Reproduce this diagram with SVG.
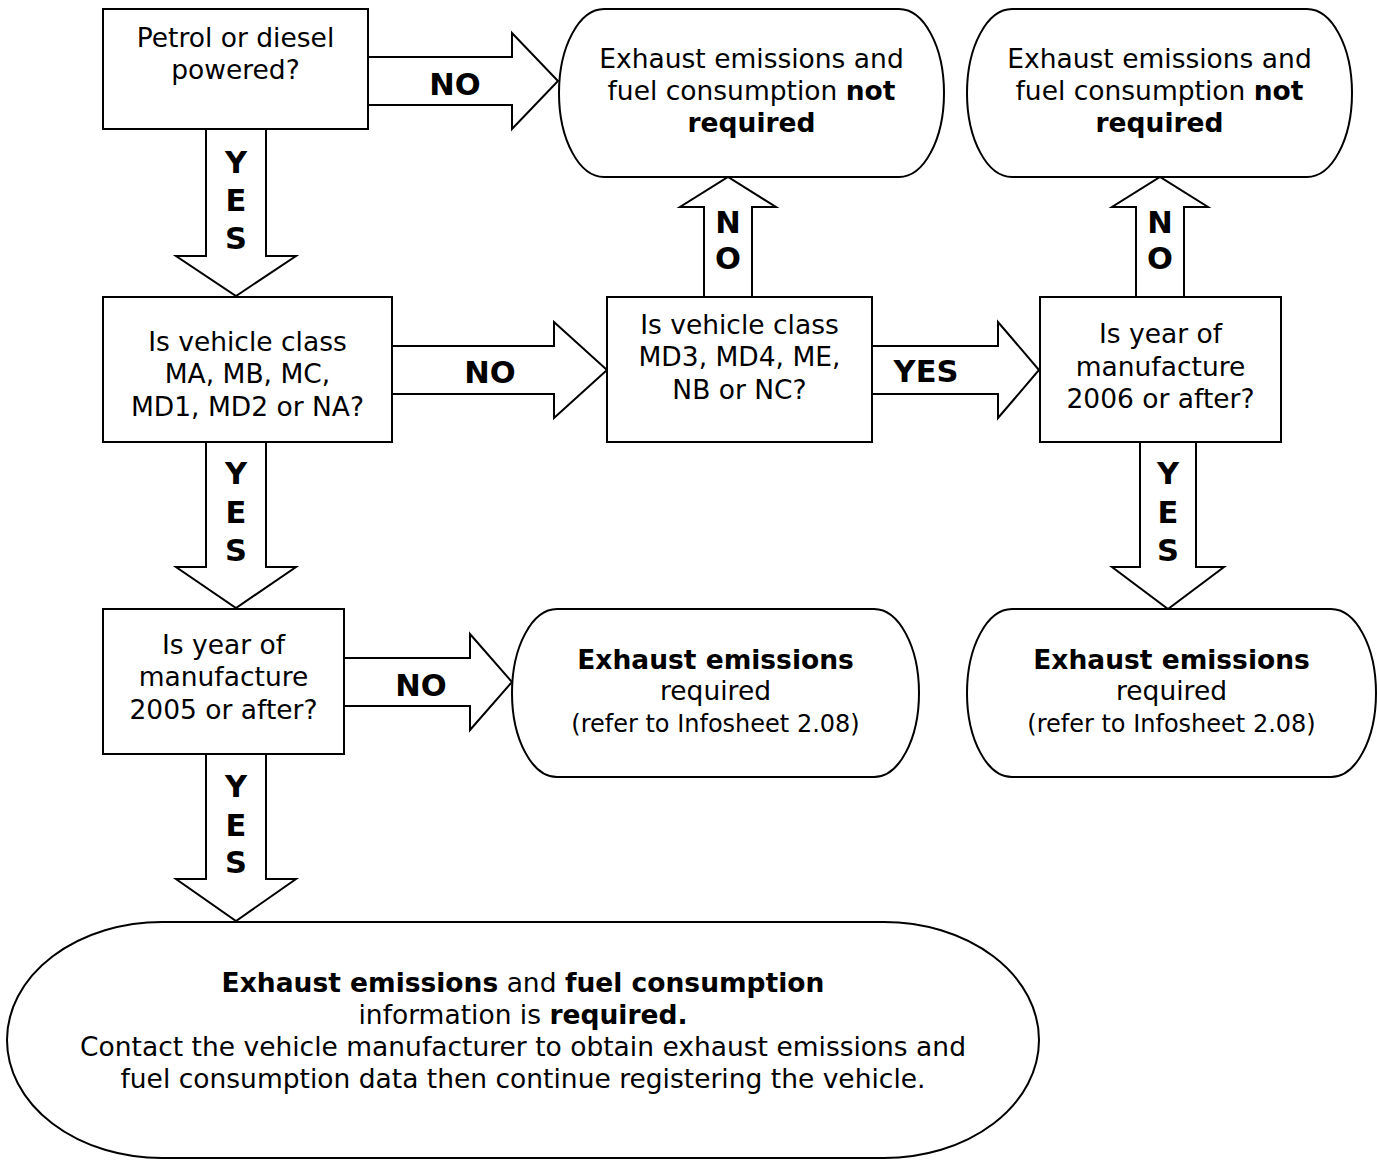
<svg xmlns="http://www.w3.org/2000/svg" width="1377" height="1160" viewBox="0 0 1377 1160">
<style>
.shape{fill:#fff;stroke:#000;stroke-width:2}
.arr{fill:#fff;stroke:#000;stroke-width:2;stroke-linejoin:miter}
text{font-family:"DejaVu Sans","Verdana",sans-serif;fill:#000;text-anchor:middle}
.t{font-size:26.5px}
.s{font-size:24px}
.b{font-weight:bold}
.lbl{font-size:30.5px;font-weight:bold}
</style>
<rect width="1377" height="1160" fill="#fff"/>
<g id="connectors">
<polygon class="arr" points="368,57 512,57 512,33 558,81 512,129 512,105 368,105"/>
<polygon class="arr" points="206,129 266,129 266,256 296,256 236,296 176,256 206,256"/>
<polygon class="arr" points="392,346 554,346 554,322 607,370 554,418 554,394 392,394"/>
<polygon class="arr" points="704,297 704,207 680,207 728,177 776,207 752,207 752,297"/>
<polygon class="arr" points="872,346 998,346 998,322 1039,370 998,418 998,394 872,394"/>
<polygon class="arr" points="1136,297 1136,207 1112,207 1160,177 1208,207 1184,207 1184,297"/>
<polygon class="arr" points="206,442 266,442 266,567 296,567 236,608 176,567 206,567"/>
<polygon class="arr" points="1140,442 1196,442 1196,567 1224,567 1168,609 1112,567 1140,567"/>
<polygon class="arr" points="344,658 470,658 470,634 512,682 470,730 470,706 344,706"/>
<polygon class="arr" points="206,754 266,754 266,879 296,879 236,921 176,879 206,879"/>
<text class="lbl" x="455" y="95">NO</text>
<text class="lbl" x="236" y="173">Y</text>
<text class="lbl" x="236" y="211">E</text>
<text class="lbl" x="236" y="249">S</text>
<text class="lbl" x="490" y="383">NO</text>
<text class="lbl" x="728" y="233">N</text>
<text class="lbl" x="728" y="269">O</text>
<text class="lbl" x="926" y="382">YES</text>
<text class="lbl" x="1160" y="233">N</text>
<text class="lbl" x="1160" y="269">O</text>
<text class="lbl" x="236" y="484">Y</text>
<text class="lbl" x="236" y="523">E</text>
<text class="lbl" x="236" y="561">S</text>
<text class="lbl" x="1168" y="484">Y</text>
<text class="lbl" x="1168" y="523">E</text>
<text class="lbl" x="1168" y="561">S</text>
<text class="lbl" x="421" y="696">NO</text>
<text class="lbl" x="236" y="797">Y</text>
<text class="lbl" x="236" y="836">E</text>
<text class="lbl" x="236" y="873">S</text>
</g>
<g id="n-petrol">
<rect class="shape" x="103" y="9" width="265" height="120"/>
<text class="t" x="235.5" y="47">Petrol or diesel</text>
<text class="t" x="235.5" y="79">powered?</text>
</g>
<g id="n-notreq1">
<rect class="shape" x="559" y="9" width="385" height="168" rx="45" ry="84"/>
<text class="t" x="751.5" y="68">Exhaust emissions and</text>
<text class="t" x="751.5" y="100">fuel consumption <tspan class="b">not</tspan></text>
<text class="t b" x="751.5" y="132">required</text>
</g>
<g id="n-notreq2">
<rect class="shape" x="967" y="9" width="385" height="168" rx="45" ry="84"/>
<text class="t" x="1159.5" y="68">Exhaust emissions and</text>
<text class="t" x="1159.5" y="100">fuel consumption <tspan class="b">not</tspan></text>
<text class="t b" x="1159.5" y="132">required</text>
</g>
<g id="n-class1">
<rect class="shape" x="103" y="297" width="289" height="145"/>
<text class="t" x="247.5" y="351">Is vehicle class</text>
<text class="t" x="247.5" y="383">MA, MB, MC,</text>
<text class="t" x="247.5" y="416">MD1, MD2 or NA?</text>
</g>
<g id="n-class2">
<rect class="shape" x="607" y="297" width="265" height="145"/>
<text class="t" x="739.5" y="334">Is vehicle class</text>
<text class="t" x="739.5" y="366">MD3, MD4, ME,</text>
<text class="t" x="739.5" y="399">NB or NC?</text>
</g>
<g id="n-year2006">
<rect class="shape" x="1040" y="297" width="241" height="145"/>
<text class="t" x="1160.5" y="343">Is year of</text>
<text class="t" x="1160.5" y="376">manufacture</text>
<text class="t" x="1160.5" y="408">2006 or after?</text>
</g>
<g id="n-year2005">
<rect class="shape" x="103" y="609" width="241" height="145"/>
<text class="t" x="223.5" y="654">Is year of</text>
<text class="t" x="223.5" y="686">manufacture</text>
<text class="t" x="223.5" y="719">2005 or after?</text>
</g>
<g id="n-exh1">
<rect class="shape" x="512" y="609" width="407" height="168" rx="45" ry="84"/>
<text class="t b" x="715.5" y="669">Exhaust emissions</text>
<text class="t" x="715.5" y="700">required</text>
<text class="s" x="715.5" y="732">(refer to Infosheet 2.08)</text>
</g>
<g id="n-exh2">
<rect class="shape" x="967" y="609" width="409" height="168" rx="45" ry="84"/>
<text class="t b" x="1171.5" y="669">Exhaust emissions</text>
<text class="t" x="1171.5" y="700">required</text>
<text class="s" x="1171.5" y="732">(refer to Infosheet 2.08)</text>
</g>
<g id="n-final">
<rect class="shape" x="7" y="922" width="1032" height="236" rx="155" ry="118"/>
<text class="t" x="523" y="992"><tspan class="b">Exhaust emissions</tspan> and <tspan class="b">fuel consumption</tspan></text>
<text class="t" x="523" y="1024">information is <tspan class="b">required.</tspan></text>
<text class="t" x="523" y="1056">Contact the vehicle manufacturer to obtain exhaust emissions and</text>
<text class="t" x="523" y="1088">fuel consumption data then continue registering the vehicle.</text>
</g>
</svg>
